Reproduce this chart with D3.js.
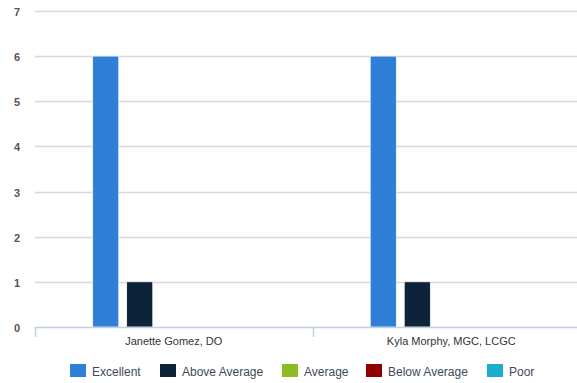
<!DOCTYPE html>
<html>
<head>
<meta charset="utf-8">
<script src="https://cdn.jsdelivr.net/npm/d3@7"></script>
<style>
  html, body { margin: 0; padding: 0; background: #fff; }
  svg { display: block; font-family: "Liberation Sans", Arial, sans-serif; }
</style>
</head>
<body>
<svg id="chart" width="577" height="383"></svg>
<script>
// Ratings per provider
const categories = ["Janette Gomez, DO", "Kyla Morphy, MGC, LCGC"];
const seriesNames = ["Excellent", "Above Average", "Average", "Below Average", "Poor"];
const excellent = [6, 6];
const aboveAverage = [1, 1];
const average = [0, 0];
const belowAverage = [0, 0];
const poor = [0, 0];
const yTicks = [0, 1, 2, 3, 4, 5, 6, 7];
const colors = ["#2f7ed8", "#0d233a", "#8bbc21", "#910000", "#1aadce"];

const seriesValues = [excellent, aboveAverage, average, belowAverage, poor];

const svg = d3.select("#chart");
const margin = { left: 35, right: -13, top: 11, bottom: 56 };
const W = 577, H = 383;
const plotLeft = margin.left, plotRight = W - margin.right;
const plotTop = margin.top, plotBottom = H - margin.bottom;

const groupWidth = 162;
const x0 = d3.scaleBand().domain(categories).range([plotLeft, plotRight]).padding(0);
const x1 = d3.scaleBand().domain(seriesNames).range([0, groupWidth]).paddingInner(8 / 34).paddingOuter(0);
const groupOffset = (x0.bandwidth() - groupWidth) / 2;
const y = d3.scaleLinear().domain([0, 7]).range([plotBottom, plotTop]);

// Horizontal gridlines
svg.append("g")
  .selectAll("line")
  .data(yTicks.filter(t => t > 0))
  .join("line")
  .attr("x1", plotLeft).attr("x2", plotRight)
  .attr("y1", d => Math.round(y(d)) + 0.5).attr("y2", d => Math.round(y(d)) + 0.5)
  .attr("stroke", "#d8d8d8").attr("stroke-width", 1.5);

// Y axis labels
const yAxis = d3.axisLeft(y).tickValues(yTicks).tickSize(0).tickPadding(0).tickFormat(d3.format("d"));
const yg = svg.append("g").attr("transform", `translate(20,1)`).call(yAxis);
yg.select(".domain").remove();
yg.selectAll("text")
  .attr("fill", "#555").style("font-size", "11px").style("font-weight", "bold");

// Bars
const groups = svg.append("g")
  .selectAll("g")
  .data(categories)
  .join("g")
  .attr("transform", d => `translate(${x0(d) + groupOffset},0)`);

groups.selectAll("rect")
  .data((c, ci) => seriesNames.map((s, si) => ({ s, si, v: seriesValues[si][ci] })))
  .join("rect")
  .attr("x", d => x1(d.s))
  .attr("width", x1.bandwidth())
  .attr("y", d => y(d.v))
  .attr("height", d => y(0) - y(d.v))
  .attr("fill", d => colors[d.si])
  .attr("stroke", "#fff").attr("stroke-width", 0.6);

// X axis
const xAxis = d3.axisBottom(x0).tickSize(0).tickPadding(0);
const xg = svg.append("g").attr("transform", `translate(0,${plotBottom})`).call(xAxis);
xg.select(".domain").attr("stroke", "#c0d0e0").attr("stroke-width", 1.5);
xg.selectAll("text")
  .attr("y", 18).attr("dy", 0)
  .attr("fill", "#333").style("font-size", "11px");

// Category separator ticks
svg.append("g")
  .selectAll("line")
  .data(categories)
  .join("line")
  .attr("x1", d => Math.round(x0(d)) + 0.5).attr("x2", d => Math.round(x0(d)) + 0.5)
  .attr("y1", plotBottom).attr("y2", plotBottom + 10)
  .attr("stroke", "#c0d0e0").attr("stroke-width", 1.5);

// Legend
const legendX = [70, 160, 282, 366, 487];
const legend = svg.append("g")
  .selectAll("g")
  .data(seriesNames)
  .join("g")
  .attr("transform", (d, i) => `translate(${legendX[i]},364)`);
legend.append("rect")
  .attr("width", 16).attr("height", 13)
  .attr("fill", (d, i) => colors[i]);
legend.append("text")
  .attr("x", 22).attr("y", 12)
  .attr("fill", "#3e4a5a").style("font-size", "12px")
  .text(d => d);
</script>
</body>
</html>
